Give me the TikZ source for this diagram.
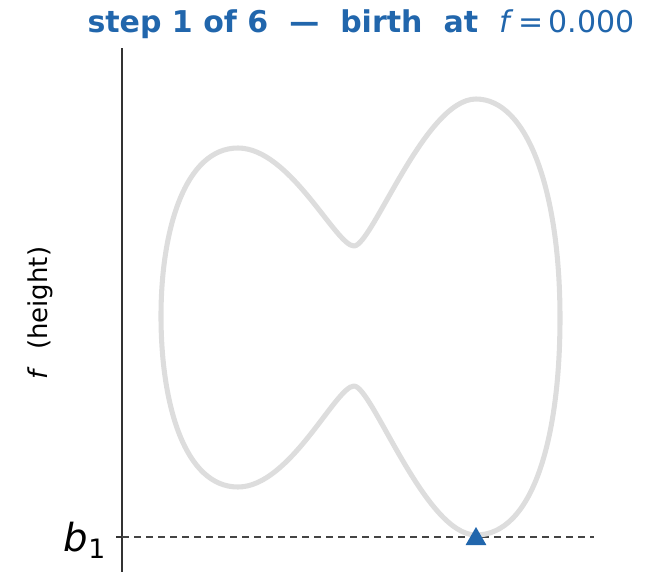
\documentclass[tikz,border=0pt]{standalone}
\usepackage{fontspec}
\setmainfont{DejaVu Sans}
\usetikzlibrary{shapes.geometric}
\definecolor{stepblue}{RGB}{33,102,172}
\definecolor{loopgray}{RGB}{221,221,221}
\definecolor{levelgray}{RGB}{68,68,68}

\begin{document}
\begin{tikzpicture}[x=0.75pt, y=-0.75pt,
  outline/.style={loopgray, line width=3.8pt, line join=round},
  spine/.style={black!80, line width=1.1pt},
  level/.style={levelgray, line width=1.1pt, dash pattern=on 5.5pt off 3.5pt},
  birthmark/.style={regular polygon, regular polygon sides=3, fill=stepblue,
                    minimum size=18pt, inner sep=0pt}]
\useasboundingbox (0,0) rectangle (662,572);

%% axis spine and its one tick
\coordinate (top)  at (122,48);
\coordinate (bot)  at (122,572);
\coordinate (tick) at (116,537);
\coordinate (foot) at (122,537);
\draw[spine] (top) -- (bot);
\draw[spine] (tick) -- (foot);

%% the height function's level at the birth
\coordinate (lvlend) at (594,537);
\draw[level] (foot) -- (lvlend);

%% the closed outline: right lobe, upper waist, left lobe, lower waist
\draw[outline] (476,535)
  .. controls (532,535) and (560,440) .. (560,318)
  .. controls (560,190) and (527,99)  .. (476,99)
  .. controls (425,99)  and (372,246) .. (354,246)
  .. controls (336,246) and (290,148) .. (238,148)
  .. controls (185,148) and (161,230) .. (161,316)
  .. controls (161,405) and (185,487) .. (238,487)
  .. controls (290,487) and (336,386) .. (354,386)
  .. controls (372,386) and (425,535) .. (476,535) -- cycle;

%% marker and labels
\node[birthmark] (birth) at (476,539) {};
\node[font=\fontsize{22.5}{26}\selectfont, text=stepblue] (title) at (361,24)
  {\textbf{step 1 of 6\hspace{0.7em}—\hspace{0.7em}birth\hspace{0.7em}at}\hspace{0.7em}\textit{f}\,=\,0.000};
\node[font=\fontsize{19.5}{22}\selectfont, rotate=90] (ylab) at (40,313)
  {\textit{f}\hspace{0.65em}(height)};
\node[font=\fontsize{29}{32}\selectfont, anchor=east] (blab) at (110,540)
  {\textit{b}\raisebox{-0.18em}{\fontsize{20}{22}\selectfont 1}};
\end{tikzpicture}
\end{document}
